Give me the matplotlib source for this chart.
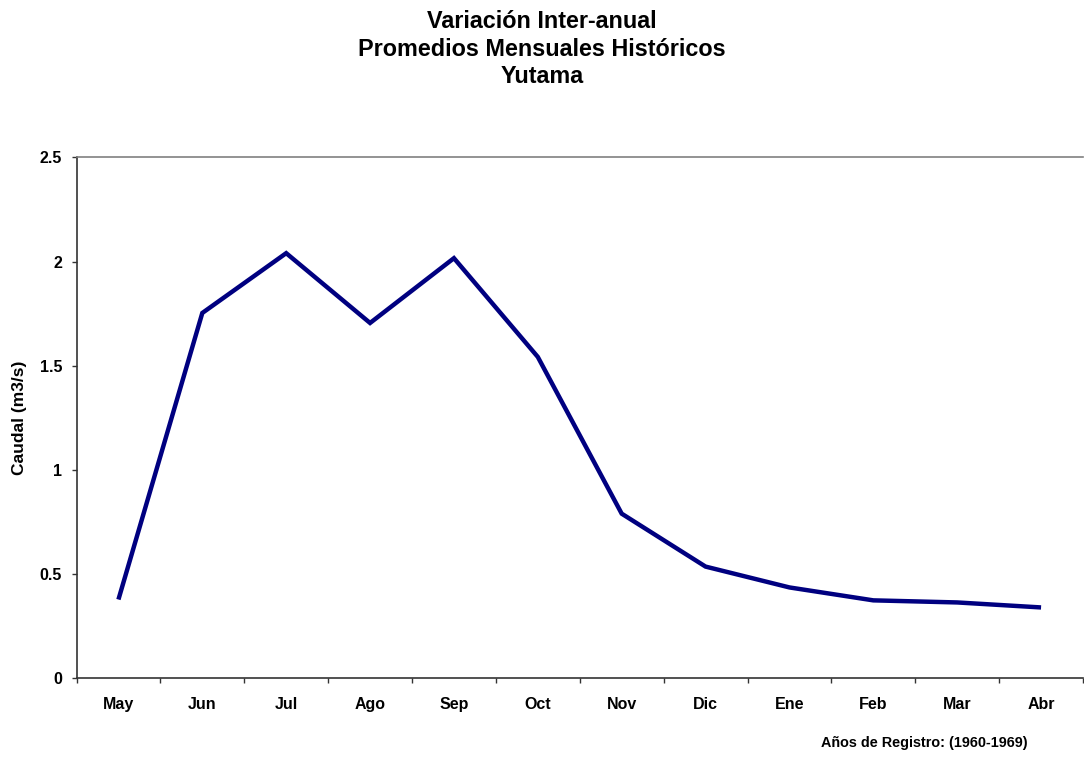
import matplotlib
matplotlib.use("Agg")
import matplotlib.pyplot as plt
import numpy as np

months = ["May", "Jun", "Jul", "Ago", "Sep", "Oct", "Nov", "Dic", "Ene", "Feb", "Mar", "Abr"]
caudal = [0.378, 1.753, 2.04, 1.705, 2.016, 1.542, 0.79, 0.536, 0.436, 0.374, 0.364, 0.34]
yticks = [0, 0.5, 1, 1.5, 2, 2.5]
ytick_labels = ["0", "0.5", "1", "1.5", "2", "2.5"]
title_lines = ["Variación Inter-anual", "Promedios Mensuales Históricos", "Yutama"]

plt.rcParams['font.family'] = ['Liberation Sans', 'DejaVu Sans']

W, H = 1084, 757
fig = plt.figure(figsize=(W / 100, H / 100), dpi=100)
left, right, top, bottom = 76.5, 1083, 157.3, 678.3
ax = fig.add_axes([left / W, 1 - bottom / H, (right - left) / W, (bottom - top) / H])

x = np.arange(len(months))
ax.plot(x, caudal, color="#000080", lw=3.2, solid_joinstyle="miter", solid_capstyle="butt")

ax.set_xlim(-0.5, len(months) - 0.5)
ax.set_ylim(0, 2.5)
ax.set_yticks(yticks)
ax.set_yticklabels(ytick_labels, fontsize=11.5, fontweight="bold")
ax.set_xticks(x)
ax.set_xticklabels(months, fontsize=11.5, fontweight="bold")
ax.set_xticks(np.arange(-0.5, len(months), 1), minor=True)
ax.tick_params(axis="x", which="major", length=0, pad=13.4)
ax.tick_params(axis="x", which="minor", length=3.6, width=1, color="#333333", direction="out")
ax.tick_params(axis="y", length=3.6, width=1, color="#333333", direction="out", pad=6.8)

for s in ["left", "bottom"]:
    ax.spines[s].set_color("#333333")
    ax.spines[s].set_linewidth(1.2)
ax.spines["right"].set_visible(False)
ax.spines["top"].set_color("#808080")
ax.spines["top"].set_linewidth(1.2)

ax.set_ylabel("Caudal (m3/s)", fontsize=12.5, fontweight="bold", va="center")
ax.yaxis.set_label_coords((20 - left) / (right - left), 0.5)

for i, line in enumerate(title_lines):
    fig.text(0.5, 1 - (28 + 27.5 * i) / H, line, ha="center", va="baseline",
             fontsize=16.8, fontweight="bold")
fig.text(1028 / W, 1 - 743 / H, "Años de Registro: (1960-1969)", ha="right", va="center",
         fontsize=10.4, fontweight="bold")

fig.savefig("out.png", dpi=100)
